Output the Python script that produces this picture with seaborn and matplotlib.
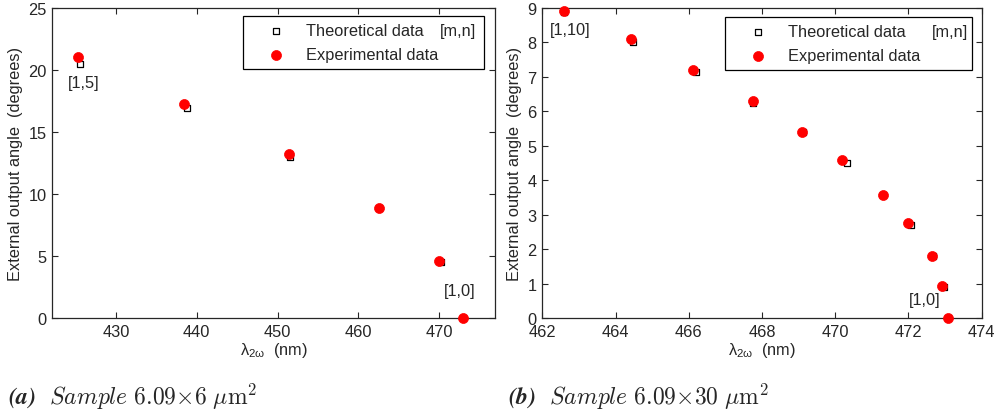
import matplotlib
matplotlib.use("Agg")
import matplotlib.pyplot as plt
import seaborn as sns
import pandas as pd

# ---- data ----
a_theo_x = [425.6, 438.8, 451.6, 462.6, 470.2, 473.0]
a_theo_y = [20.5, 16.9, 13.0, 8.85, 4.5, 0.0]
a_exp_x = [425.3, 438.4, 451.4, 462.5, 470.0, 473.0]
a_exp_y = [21.05, 17.25, 13.25, 8.9, 4.6, 0.0]

b_theo_x = [462.60, 464.47, 466.19, 467.75, 469.11, 470.31, 471.30, 472.07, 472.66, 472.97, 473.07]
b_theo_y = [8.88, 8.00, 7.13, 6.25, 5.39, 4.49, 3.58, 2.70, 1.80, 0.90, 0.00]
b_exp_x = [462.60, 464.43, 466.11, 467.75, 469.08, 470.19, 471.30, 472.00, 472.63, 472.91, 473.07]
b_exp_y = [8.91, 8.10, 7.20, 6.29, 5.40, 4.58, 3.58, 2.75, 1.79, 0.92, 0.00]

a_xticks = [430, 440, 450, 460, 470]
a_yticks = [0, 5, 10, 15, 20, 25]
b_xticks = [462, 464, 466, 468, 470, 472, 474]
b_yticks = [0, 1, 2, 3, 4, 5, 6, 7, 8, 9]

sns.set_style("ticks")
plt.rcParams["font.family"] = ["Liberation Sans", "DejaVu Sans"]
plt.rcParams["mathtext.fontset"] = "custom"
plt.rcParams["mathtext.rm"] = "Liberation Sans"
plt.rcParams["mathtext.it"] = "Liberation Sans"
plt.rcParams["mathtext.bf"] = "Liberation Sans:bold"

FS = 11.8

fig = plt.figure(figsize=(9.97, 4.14), dpi=100)
axA = fig.add_axes([52 / 997, 95 / 414, 443 / 997, 310 / 414])
axB = fig.add_axes([542.3 / 997, 95 / 414, 439.4 / 997, 310 / 414])


def panel(ax, tx, ty, ex, ey, xlim, ylim, xticks, yticks, leg_box, mn_pos):
    dt = pd.DataFrame({"x": tx, "y": ty})
    de = pd.DataFrame({"x": ex, "y": ey})
    sns.scatterplot(data=dt, x="x", y="y", ax=ax, marker="s", s=22,
                    facecolor="white", edgecolor="black", linewidth=0.9,
                    label="Theoretical data", zorder=3)
    sns.scatterplot(data=de, x="x", y="y", ax=ax, marker="o", s=52,
                    color="#ff0000", edgecolor="#ff0000", linewidth=0.5,
                    label="Experimental data", zorder=4, clip_on=False)
    ax.set_xlim(*xlim)
    ax.set_ylim(*ylim)
    ax.set_xticks(xticks)
    ax.set_yticks(yticks)
    ax.tick_params(direction="in", top=True, right=True, labelsize=FS,
                   length=4, width=0.8, pad=4)
    for s in ax.spines.values():
        s.set_linewidth(0.9)
        s.set_visible(True)
    ax.set_xlabel("λ$_{2ω}$  (nm)", fontsize=FS, labelpad=1)
    ax.set_ylabel("External output angle  (degrees)", fontsize=FS, labelpad=4)
    leg = ax.legend(loc="upper left", bbox_to_anchor=leg_box, mode="expand",
                    frameon=True, fancybox=False, edgecolor="black",
                    framealpha=1, fontsize=FS, borderpad=0.42,
                    labelspacing=0.57, handlelength=3.2, handletextpad=0.2,
                    borderaxespad=0)
    leg.get_frame().set_linewidth(0.9)
    leg.set_zorder(5)
    ax.text(mn_pos[0], mn_pos[1], "[m,n]", transform=ax.transAxes,
            ha="center", va="center", fontsize=FS, zorder=10)


panel(axA, a_theo_x, a_theo_y, a_exp_x, a_exp_y, (422.1, 476.9), (0, 25),
      a_xticks, a_yticks, (0.431, 0.974, 0.544, 0.0), (0.916, 0.929))
axA.text(426.0, 19.0, "[1,5]", ha="center", va="center", fontsize=FS)
axA.text(472.5, 2.2, "[1,0]", ha="center", va="center", fontsize=FS)

panel(axB, b_theo_x, b_theo_y, b_exp_x, b_exp_y, (462, 474), (0, 9),
      b_xticks, b_yticks, (0.416, 0.971, 0.563, 0.0), (0.928, 0.923))
axB.text(462.77, 8.37, "[1,10]", ha="center", va="center", fontsize=FS)
axB.text(472.43, 0.55, "[1,0]", ha="center", va="center", fontsize=FS)

fig.text(8 / 997, 1 - 397 / 414,
         r"$\mathbfit{(a)}\ \ \mathit{Sample\ 6.09{\times}6}\ \mathrm{\mu m}^2$",
         math_fontfamily="cm", fontsize=17, ha="left", va="center")
fig.text(508 / 997, 1 - 397 / 414,
         r"$\mathbfit{(b)}\ \ \mathit{Sample\ 6.09{\times}30}\ \mathrm{\mu m}^2$",
         math_fontfamily="cm", fontsize=17, ha="left", va="center")

fig.savefig("out.png", dpi=100)
